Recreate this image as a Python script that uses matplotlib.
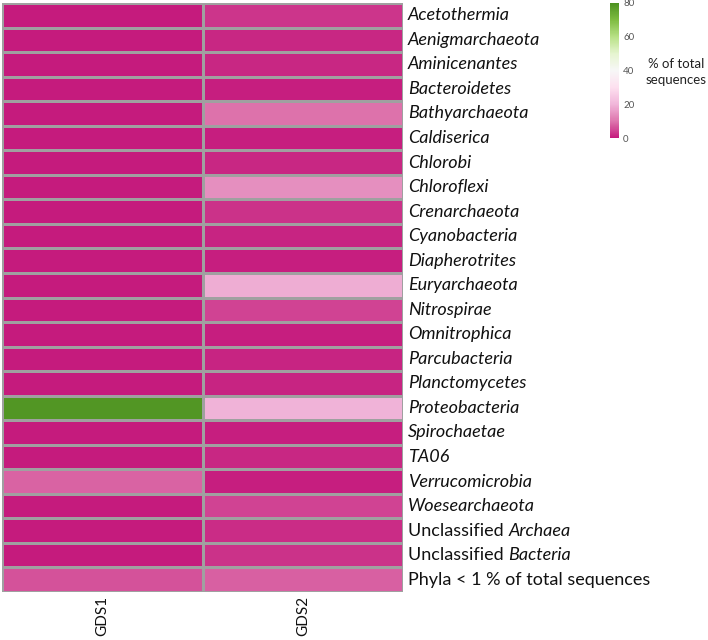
import numpy as np
import matplotlib
matplotlib.use("Agg")
import matplotlib.pyplot as plt
from matplotlib.colors import LinearSegmentedColormap, Normalize
import matplotlib.colorbar as mcolorbar

plt.rcParams['font.family'] = ['Lato', 'DejaVu Sans']

phyla = ["Acetothermia", "Aenigmarchaeota", "Aminicenantes", "Bacteroidetes",
         "Bathyarchaeota", "Caldiserica", "Chlorobi", "Chloroflexi",
         "Crenarchaeota", "Cyanobacteria", "Diapherotrites", "Euryarchaeota",
         "Nitrospirae", "Omnitrophica", "Parcubacteria", "Planctomycetes",
         "Proteobacteria", "Spirochaetae", "TA06", "Verrucomicrobia",
         "Woesearchaeota", "Unclassified Archaea", "Unclassified Bacteria",
         "Phyla < 1 % of total sequences"]
samples = ["GDS1", "GDS2"]
gds1 = [0.3, 0.2, 0.2, 0.2, 0.3, 0.2, 0.2, 0.2, 0.2, 0.2, 0.2, 0.2,
        0.2, 0.2, 0.2, 0.2, 79.0, 0.2, 0.2, 8.0, 0.2, 0.2, 0.2, 6.0]
gds2 = [3.0, 1.5, 1.5, 0.5, 9.5, 0.5, 1.5, 14.0, 2.5, 1.0, 0.6, 18.5,
        4.5, 0.5, 1.0, 1.0, 19.5, 0.6, 1.5, 0.5, 4.5, 2.0, 2.5, 7.5]
cbar_ticks = [0, 20, 40, 60, 80]

colors = ["#c51b7d", "#de77ae", "#f1b6da", "#fde0ef", "#f7f7f7",
          "#e6f5d0", "#b8e186", "#7fbc41", "#4d9221"]
cmap = LinearSegmentedColormap.from_list("piyg9", colors)
norm = Normalize(vmin=0, vmax=80)

data = np.array([gds1, gds2]).T

W, H = 708, 640
fig = plt.figure(figsize=(W / 100, H / 100), dpi=100)
ax = fig.add_axes([2 / W, (H - 592) / H, 401 / W, 589 / H])
ax.pcolormesh(np.arange(len(samples) + 1), np.arange(len(phyla) + 1), data,
              cmap=cmap, norm=norm, edgecolors="#a0a0a0", linewidth=0.75)
ax.set_xlim(0, len(samples))
ax.set_ylim(len(phyla), 0)
for s in ax.spines.values():
    s.set_visible(False)
ax.set_xticks([])
ax.set_yticks([])

fs = 13
for i, name in enumerate(phyla):
    if name.startswith("Unclassified "):
        reg, it = "Unclassified ", name[len("Unclassified "):]
    elif name.startswith("Phyla"):
        reg, it = name, ""
    else:
        reg, it = "", name
    if reg == "":
        ax.annotate(it, xy=(1, i + 0.5), xycoords=("axes fraction", "data"),
                    xytext=(3.5, 0), textcoords="offset points", va="center",
                    ha="left", fontsize=fs, style="italic", color="#111111")
    else:
        t1 = ax.annotate(reg, xy=(1, i + 0.5), xycoords=("axes fraction", "data"),
                         xytext=(3.5, 0), textcoords="offset points", va="center",
                         ha="left", fontsize=fs, color="#111111")
        if it:
            ax.annotate(it, xy=(1, 0), xycoords=t1, va="bottom", ha="left",
                        fontsize=fs, style="italic", color="#111111")

for j, s in enumerate(samples):
    ax.annotate(s, xy=(j + 0.5, 0), xycoords=("data", "axes fraction"),
                xytext=(0, -3), textcoords="offset points", rotation=90,
                ha="center", va="top", fontsize=11, color="#111111")

cax = fig.add_axes([610 / W, (H - 138) / H, 9 / W, 135 / H])
cb = mcolorbar.ColorbarBase(cax, cmap=cmap, norm=norm, orientation="vertical")
cb.outline.set_visible(False)
cb.set_ticks(cbar_ticks)
cax.tick_params(length=0, labelsize=7, labelcolor="#555555", pad=3)
fig.text(676 / W, 1 - 72 / H, "% of total\nsequences", ha="center", va="center",
         fontsize=9.5, color="#222222", linespacing=1.35)

fig.savefig("out.png", dpi=100)
